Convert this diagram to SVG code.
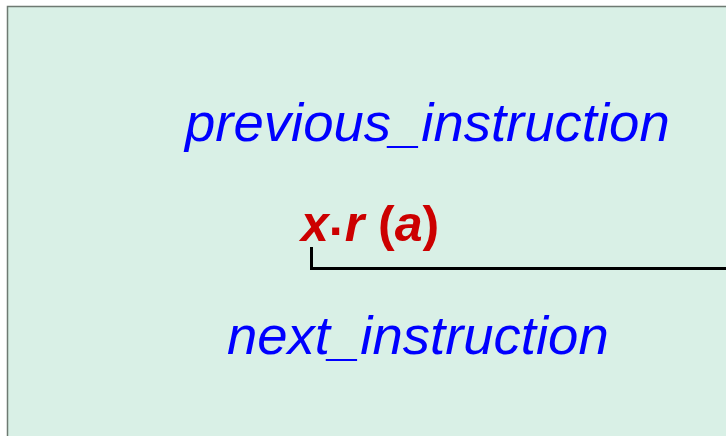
<svg xmlns="http://www.w3.org/2000/svg" width="726" height="436" viewBox="0 0 726 436">
<style>
.ins{font-family:"Liberation Sans",Arial,sans-serif;font-style:italic;font-size:54.5px;fill:#0000ff}
.call{font-family:"Liberation Sans",Arial,sans-serif;font-weight:bold;font-size:50px;fill:#cc0000}
.conn{fill:none;stroke:#000;stroke-width:3}
</style>
<rect x="7.5" y="6.5" width="730" height="440" fill="#d9f0e6" stroke="#6e7a72" stroke-width="1.5"/>
<g id="previous"><text class="ins" x="185" y="141">previous_instruction</text></g>
<g id="call"><text class="call" x="301" y="241"><tspan font-style="italic">x</tspan><tspan dy="-6">.</tspan><tspan dy="6" dx="2" font-style="italic">r</tspan> (<tspan font-style="italic">a</tspan>)</text></g>
<g id="next"><text class="ins" x="227" y="354">next_instruction</text></g>
<g id="connectors"><path class="conn" d="M311.5 247 V268.5 H726"/></g>
</svg>
